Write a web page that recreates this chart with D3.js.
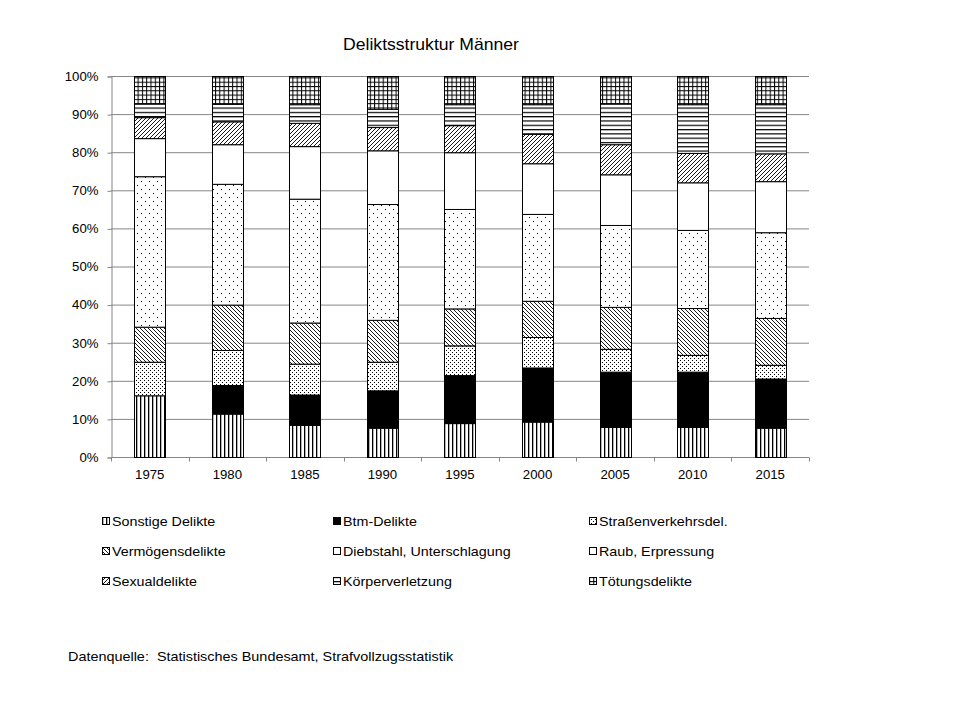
<!DOCTYPE html>
<html><head><meta charset="utf-8">
<script src="https://cdn.jsdelivr.net/npm/d3@7"></script>
<style>
body{margin:0;background:#fff}
text{font-family:"Liberation Sans",Arial,sans-serif;fill:#000}
</style>
</head><body>
<svg id="c" width="960" height="720"></svg>
<script>
const years = ["1975","1980","1985","1990","1995","2000","2005","2010","2015"];
const seriesNames = ["Sonstige Delikte","Btm-Delikte","Straßenverkehrsdel.","Vermögensdelikte","Diebstahl, Unterschlagung","Raub, Erpressung","Sexualdelikte","Körperverletzung","Tötungsdelikte"];
const sonstige        = [16.2, 11.4,  8.4,  7.7,  8.9,  9.3,  7.9,  7.9,  7.7];
const btm             = [ 0.0,  7.5,  8.0,  9.8, 12.6, 14.2, 14.5, 14.5, 12.9];
const strassenverkehr = [ 8.8,  9.2,  8.1,  7.5,  7.8,  8.0,  6.0,  4.4,  3.6];
const vermoegen       = [ 9.2, 11.9, 10.8, 11.0,  9.7,  9.5, 11.0, 12.3, 12.3];
const diebstahl       = [39.5, 31.7, 32.5, 30.4, 26.1, 22.8, 21.5, 20.5, 22.5];
const raub            = [10.0, 10.4, 13.8, 14.1, 14.9, 13.3, 13.3, 12.5, 13.4];
const sexual          = [ 5.5,  6.0,  6.1,  6.1,  7.1,  7.7,  7.9,  7.7,  7.3];
const koerper         = [ 3.6,  4.6,  4.9,  4.8,  5.5,  7.8, 10.7, 12.8, 12.9];
const toetung         = [ 7.2,  7.3,  7.4,  8.6,  7.4,  7.4,  7.2,  7.4,  7.4];
const yTicks = [0,10,20,30,40,50,60,70,80,90,100];
const titleText = "Deliktsstruktur Männer";
const sourceText = "Datenquelle:  Statistisches Bundesamt, Strafvollzugsstatistik";

const seriesValues = [sonstige, btm, strassenverkehr, vermoegen, diebstahl, raub, sexual, koerper, toetung];
const table = years.map((y,i)=>{const o={year:y}; seriesNames.forEach((n,k)=>o[n]=seriesValues[k][i]); return o;});

const SX = 1.1; // horizontal text stretch of the reference
const svg = d3.select("#c");
const defs = svg.append("defs");

function pat(id, w, h, draw){
  const p = defs.append("pattern").attr("id",id).attr("patternUnits","userSpaceOnUse").attr("width",w).attr("height",h);
  p.append("rect").attr("width",w).attr("height",h).attr("fill","#fff");
  draw(p);
}
pat("p-vert",4,4,p=>p.append("rect").attr("x",0).attr("y",0).attr("width",1.3).attr("height",4).attr("fill","#000"));
pat("p-dense",4,4,p=>{p.append("rect").attr("x",0).attr("y",0).attr("width",1).attr("height",1).attr("fill","#000");
  p.append("rect").attr("x",2).attr("y",2).attr("width",1).attr("height",1).attr("fill","#000");});
pat("p-back",4,4,p=>{p.append("path").attr("d","M-1,-1L5,5M-1,3L1,5M3,-1L5,1").attr("stroke","#000").attr("stroke-width",0.9);});
pat("p-sparse",8,8,p=>{p.append("rect").attr("x",1).attr("y",1).attr("width",1).attr("height",1).attr("fill","#000");
  p.append("rect").attr("x",5).attr("y",5).attr("width",1).attr("height",1).attr("fill","#000");});
pat("p-fwd",4,4,p=>{p.append("path").attr("d","M-1,5L5,-1M-1,1L1,-1M3,5L5,3").attr("stroke","#000").attr("stroke-width",0.9);});
pat("p-horiz",4,4.3,p=>p.append("rect").attr("x",0).attr("y",0).attr("width",4).attr("height",1.2).attr("fill","#000"));
pat("p-grid",4.3,4.3,p=>{p.append("rect").attr("x",0).attr("y",0).attr("width",4.3).attr("height",1).attr("fill","#000");
  p.append("rect").attr("x",0).attr("y",0).attr("width",1).attr("height",4.3).attr("fill","#000");});
const fills = ["url(#p-vert)","#000","url(#p-dense)","url(#p-back)","url(#p-sparse)","#fff","url(#p-fwd)","url(#p-horiz)","url(#p-grid)"];
const legendFills = ["url(#p-vert)","#000","url(#p-dense)","url(#p-back)","#fff","#fff","url(#p-fwd)","url(#p-horiz)","url(#p-grid)"];

const x = d3.scaleBand().domain(years).range([111,809]).paddingInner(0.6).paddingOuter(0.3);
const y = d3.scaleLinear().domain([0,100]).range([457,76]);

// gridlines
svg.append("g").selectAll("line").data(yTicks.slice(1)).join("line")
  .attr("x1",111).attr("x2",809).attr("y1",d=>y(d)+0.5).attr("y2",d=>y(d)+0.5)
  .attr("stroke","#868686").attr("stroke-width",1);

// y axis
const ya = svg.append("g").attr("transform","translate(111.5,0.5)")
  .call(d3.axisLeft(y).tickValues(yTicks).tickSize(4).tickFormat(d=>d+"%"));
ya.select(".domain").attr("stroke","#868686");
ya.selectAll(".tick line").attr("stroke","#868686");
ya.selectAll("text").attr("font-size",12).attr("font-family","Liberation Sans, Arial, sans-serif")
  .attr("x",-13/SX).attr("transform",`scale(${SX},1)`);

// x axis
const xa = svg.append("g").attr("transform","translate(0,457.5)");
xa.append("line").attr("x1",111).attr("x2",809).attr("stroke","#868686");
const bounds = years.map((d,i)=>111 + i*x.step()).concat([809]);
xa.selectAll("line.tk").data(bounds).join("line").attr("class","tk")
  .attr("x1",d=>Math.round(d)+0.5).attr("x2",d=>Math.round(d)+0.5).attr("y1",0).attr("y2",4).attr("stroke","#868686");
xa.selectAll("text").data(years).join("text")
  .attr("transform",d=>`translate(${x(d)+x.bandwidth()/2},21) scale(${SX},1)`)
  .attr("text-anchor","middle").attr("font-size",12).text(d=>d);

// stacked bars
const stack = d3.stack().keys(seriesNames)(table);
svg.append("g").selectAll("g").data(stack).join("g")
  .attr("fill",(d,i)=>fills[i])
  .selectAll("rect").data(d=>d).join("rect")
  .attr("x",d=>Math.round(x(d.data.year))+0.5)
  .attr("width",Math.round(x.bandwidth()))
  .attr("y",d=>y(d[1])+0.5)
  .attr("height",d=>Math.max(0,y(d[0])-y(d[1])))
  .attr("stroke",d=>(d[1]-d[0])>0?"#000":"none").attr("stroke-width",1);

// title
svg.append("text").attr("transform",`translate(431,50) scale(${SX},1)`).attr("text-anchor","middle")
  .attr("font-size",16).text(titleText);

// legend
const legX = [102,333,589], legY = [521,551,581];
const lg = svg.append("g").selectAll("g").data(seriesNames).join("g")
  .attr("transform",(d,i)=>`translate(${legX[i%3]},${legY[Math.floor(i/3)]})`);
lg.append("rect").attr("x",0.5).attr("y",-3.5).attr("width",7).attr("height",7)
  .attr("fill",(d,i)=>legendFills[i]).attr("stroke","#000").attr("stroke-width",1);
lg.append("text").attr("transform",`translate(10,5) scale(${SX},1)`).attr("font-size",13).text(d=>d);

// source
svg.append("text").attr("transform",`translate(68,661) scale(${SX},1)`).attr("font-size",13.1)
  .attr("xml:space","preserve").style("white-space","pre").text(sourceText);
</script>
</body></html>
